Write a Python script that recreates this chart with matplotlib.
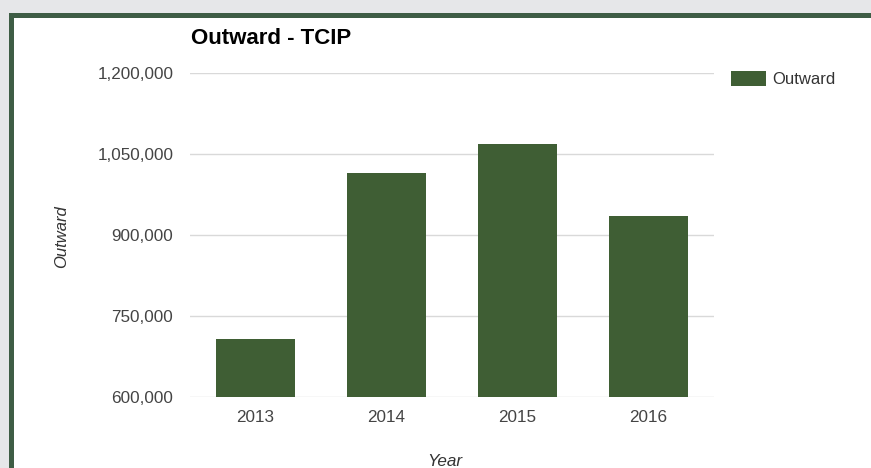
#!/usr/bin/env python3
import matplotlib
matplotlib.use('Agg')
import matplotlib.pyplot as plt
from matplotlib.patches import Rectangle
from matplotlib.ticker import FuncFormatter

years = ['2013', '2014', '2015', '2016']
outward = [708000, 1014000, 1068000, 935000]
yticks = [600000, 750000, 900000, 1050000, 1200000]

W, H = 871, 468
plt.rcParams['font.family'] = ['Liberation Sans', 'DejaVu Sans']

fig = plt.figure(figsize=(W / 100, H / 100), dpi=100)
fig.patch.set_facecolor('#e6e7e9')

# green frame, white inside (runs off the right and bottom edges)
fig.patches.append(Rectangle((10.5 / W, -0.2), 1.2, (H - 14.5) / H + 0.2,
                             transform=fig.transFigure, facecolor='white',
                             edgecolor='#3e5d45', linewidth=3.6, zorder=-10))

ax = fig.add_axes([190 / W, (H - 397) / H, (714 - 190) / W, (397 - 73) / H])
ax.set_zorder(1)
ax.set_facecolor('none')
ax.bar(range(len(years)), outward, width=0.61, color='#3f5e34',
       label='Outward', zorder=2)

ax.set_xlim(-0.5, 3.5)
ax.set_ylim(600000, 1200000)
ax.set_yticks(yticks)
ax.yaxis.set_major_formatter(FuncFormatter(lambda v, p: f'{int(v):,}'))
ax.set_xticks(range(len(years)))
ax.set_xticklabels(years)
ax.grid(axis='y', color='#d9d9d9', linewidth=1, zorder=0)
ax.set_axisbelow(True)
for s in ax.spines.values():
    s.set_visible(False)
ax.tick_params(axis='both', length=0, labelsize=12.3, colors='#444444')
ax.tick_params(axis='y', pad=12)
ax.tick_params(axis='x', pad=9)

fig.text(191 / W, 1 - 38 / H, 'Outward - TCIP', fontsize=16, fontweight='bold',
         color='black', va='center', ha='left')
fig.text(62 / W, 1 - 237 / H, 'Outward', fontsize=12, style='italic',
         color='#333333', rotation=90, va='center', ha='center')
fig.text(445 / W, 1 - 461 / H, 'Year', fontsize=12.3, style='italic',
         color='#333333', va='center', ha='center')

leg = ax.legend(loc='upper left', bbox_to_anchor=(728 / W, 1 - 68 / H),
                bbox_transform=fig.transFigure, frameon=False, fontsize=12,
                handlelength=2.1, handleheight=0.96, handletextpad=0.35,
                borderaxespad=0, borderpad=0.2)
for t in leg.get_texts():
    t.set_color('#333333')

fig.savefig('out.png', dpi=100, facecolor=fig.get_facecolor())
